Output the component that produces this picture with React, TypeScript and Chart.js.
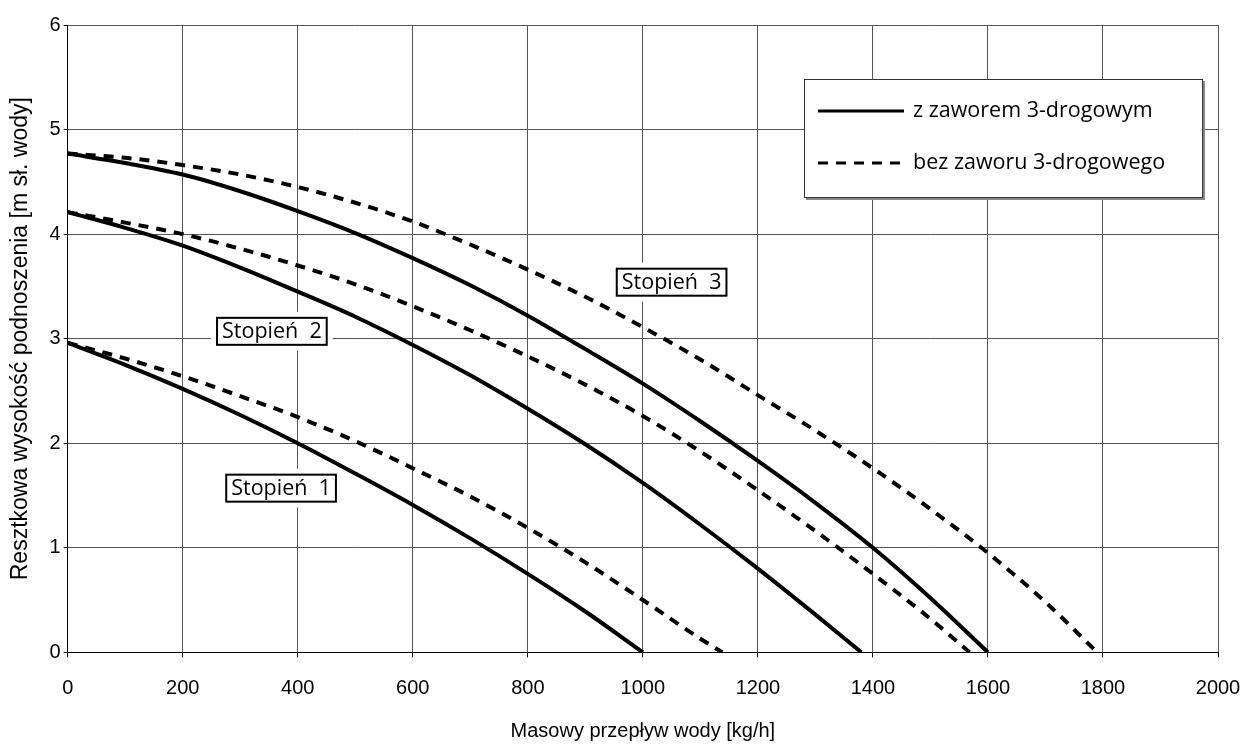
import React, { useEffect, useRef } from "react";
import { Chart, registerables } from "chart.js";

Chart.register(...registerables);

// ---- Data ----
// Stage 1
const s1SolidX: number[] = [0, 100, 200, 300, 400, 500, 600, 700, 800, 900, 1000];
const s1SolidY: number[] = [2.96, 2.75, 2.52, 2.27, 2.0, 1.71, 1.41, 1.09, 0.75, 0.39, 0];
const s1DashX: number[] = [0, 100, 200, 300, 400, 500, 600, 700, 800, 900, 1000, 1100, 1138];
const s1DashY: number[] = [2.96, 2.81, 2.64, 2.45, 2.25, 2.02, 1.76, 1.49, 1.19, 0.86, 0.50, 0.13, 0];

// Stage 2
const s2SolidX: number[] = [0, 100, 200, 300, 400, 500, 600, 700, 800, 900, 1000, 1100, 1200, 1300, 1380];
const s2SolidY: number[] = [4.21, 4.06, 3.89, 3.68, 3.45, 3.21, 2.94, 2.65, 2.33, 1.99, 1.62, 1.22, 0.80, 0.36, 0];
const s2DashX: number[] = [0, 100, 200, 300, 400, 500, 600, 700, 800, 900, 1000, 1100, 1200, 1300, 1400, 1500, 1568];
const s2DashY: number[] = [4.21, 4.11, 4.0, 3.86, 3.70, 3.52, 3.31, 3.08, 2.83, 2.56, 2.26, 1.92, 1.55, 1.16, 0.75, 0.32, 0];

// Stage 3
const s3SolidX: number[] = [0, 100, 200, 300, 400, 500, 600, 700, 800, 900, 1000, 1100, 1200, 1300, 1400, 1500, 1600];
const s3SolidY: number[] = [4.77, 4.68, 4.57, 4.41, 4.22, 4.01, 3.77, 3.51, 3.22, 2.90, 2.57, 2.21, 1.83, 1.43, 1.0, 0.52, 0];
const s3DashX: number[] = [0, 100, 200, 300, 400, 500, 600, 700, 800, 900, 1000, 1100, 1200, 1300, 1400, 1500, 1600, 1700, 1790];
const s3DashY: number[] = [4.77, 4.73, 4.66, 4.57, 4.45, 4.30, 4.12, 3.90, 3.66, 3.40, 3.11, 2.80, 2.46, 2.12, 1.76, 1.37, 0.95, 0.48, 0];

const xTicks: number[] = [0, 200, 400, 600, 800, 1000, 1200, 1400, 1600, 1800, 2000];
const yTicks: number[] = [0, 1, 2, 3, 4, 5, 6];

const legendLabels: string[] = ["z zaworem 3-drogowym", "bez zaworu 3-drogowego"];
const stageLabels: string[] = ["Stopień  1", "Stopień  2", "Stopień  3"];
const stageLabelFlow: number[] = [371, 355, 1050];
const stageLabelHead: number[] = [1.57, 3.07, 3.54];

const xTitle = "Masowy przepływ wody [kg/h]";
const yTitle = "Resztkowa wysokość podnoszenia [m sł. wody]";

const AXIS_FONT = "'Liberation Sans', Arial, sans-serif";
const LABEL_FONT = "'Open Sans', 'Noto Sans', sans-serif";
const DASH = [10, 8];

function pts(xs: number[], ys: number[]) {
  return xs.map((x, i) => ({ x, y: ys[i] }));
}

const overlayPlugin = {
  id: "overlay",
  afterDatasetsDraw(chart: any) {
    const { ctx, scales, chartArea } = chart;
    const xs = scales.x;
    const ys = scales.y;
    ctx.save();
    // stage labels
    ctx.font = `21.5px ${LABEL_FONT}`;
    ctx.textAlign = "center";
    ctx.textBaseline = "middle";
    stageLabels.forEach((t, i) => {
      const cx = xs.getPixelForValue(stageLabelFlow[i]);
      const cy = ys.getPixelForValue(stageLabelHead[i]);
      const w = ctx.measureText(t).width + 10;
      const h = 27;
      ctx.fillStyle = "#fff";
      ctx.fillRect(cx - w / 2 - 6, cy - h / 2 - 6, w + 12, h + 12);
      ctx.lineWidth = 2;
      ctx.strokeStyle = "#000";
      ctx.strokeRect(cx - w / 2, cy - h / 2, w, h);
      ctx.fillStyle = "#000";
      ctx.fillText(t, cx, cy + 1);
    });

    // legend
    const bw = 399;
    const bh = 119;
    const bx = chartArea.right - 15 - bw;
    const by = chartArea.top + 54;
    ctx.fillStyle = "#888";
    ctx.fillRect(bx + 2, by + 2, bw, bh);
    ctx.fillStyle = "#fff";
    ctx.fillRect(bx, by, bw, bh);
    ctx.lineWidth = 1;
    ctx.strokeStyle = "#333";
    ctx.strokeRect(bx + 0.5, by + 0.5, bw - 1, bh - 1);
    const rows = [by + 32, by + 84];
    ctx.font = `21.5px ${LABEL_FONT}`;
    ctx.textAlign = "left";
    ctx.textBaseline = "middle";
    legendLabels.forEach((t, i) => {
      ctx.beginPath();
      ctx.lineWidth = 3;
      ctx.strokeStyle = "#000";
      ctx.setLineDash(i === 0 ? [] : DASH);
      ctx.moveTo(bx + 14, rows[i]);
      ctx.lineTo(bx + 100, rows[i]);
      ctx.stroke();
      ctx.setLineDash([]);
      ctx.fillStyle = "#000";
      ctx.fillText(t, bx + 109, rows[i]);
    });
    ctx.restore();
  },
};

export default function App() {
  const ref = useRef<HTMLCanvasElement | null>(null);
  useEffect(() => {
    if (!ref.current) return;
    const mk = (label: string, xs: number[], ys: number[], dashed: boolean) => ({
      label,
      data: pts(xs, ys),
      borderColor: "#000",
      backgroundColor: "#000",
      borderWidth: 4,
      borderDash: dashed ? DASH : [],
      pointRadius: 0,
      cubicInterpolationMode: "monotone" as const,
      fill: false,
    });
    const chart = new Chart(ref.current, {
      type: "line",
      data: {
        datasets: [
          mk(`${stageLabels[0]} – ${legendLabels[0]}`, s1SolidX, s1SolidY, false),
          mk(`${stageLabels[0]} – ${legendLabels[1]}`, s1DashX, s1DashY, true),
          mk(`${stageLabels[1]} – ${legendLabels[0]}`, s2SolidX, s2SolidY, false),
          mk(`${stageLabels[1]} – ${legendLabels[1]}`, s2DashX, s2DashY, true),
          mk(`${stageLabels[2]} – ${legendLabels[0]}`, s3SolidX, s3SolidY, false),
          mk(`${stageLabels[2]} – ${legendLabels[1]}`, s3DashX, s3DashY, true),
        ],
      },
      options: {
        responsive: false,
        animation: false,
        layout: { padding: { top: 25, right: 27, left: 0, bottom: 0 } },
        plugins: { legend: { display: false }, tooltip: { enabled: false } },
        scales: {
          x: {
            type: "linear",
            min: xTicks[0],
            max: xTicks[xTicks.length - 1],
            afterFit: (s: any) => { s.height = 96.7; s.paddingLeft = 0; s.paddingRight = 0; },
            afterBuildTicks: (s: any) => { s.ticks = xTicks.map((v) => ({ value: v })); },
            ticks: { color: "#000", font: { family: AXIS_FONT, size: 20 }, padding: 19, maxRotation: 0, callback: (v: any) => String(v) },
            grid: { color: "#555", lineWidth: 1, tickLength: 5, tickColor: "#000" },
            border: { display: true, color: "#000", width: 1 },
            title: { display: true, text: xTitle, color: "#000", font: { family: AXIS_FONT, size: 20 }, padding: { top: 0, bottom: 6 } },
          },
          y: {
            type: "linear",
            min: yTicks[0],
            max: yTicks[yTicks.length - 1],
            afterFit: (s: any) => { s.width = 67.7; s.paddingTop = 0; s.paddingBottom = 0; },
            afterBuildTicks: (s: any) => { s.ticks = yTicks.map((v) => ({ value: v })); },
            ticks: { color: "#000", font: { family: AXIS_FONT, size: 20 }, padding: 3, callback: (v: any) => String(v) },
            grid: { color: "#555", lineWidth: 1, tickLength: 4, tickColor: "#000" },
            border: { display: true, color: "#000", width: 1 },
            title: { display: true, text: yTitle, color: "#000", font: { family: AXIS_FONT, size: 23 }, padding: { top: 7, bottom: 0 } },
          },
        },
      },
      plugins: [overlayPlugin],
    });
    return () => chart.destroy();
  }, []);
  return (
    <div style={{ position: "fixed", left: 0, top: 0, width: 1245, height: 749, background: "#fff" }}>
      <canvas ref={ref} width={1245} height={749} style={{ display: "block" }} />
    </div>
  );
}
